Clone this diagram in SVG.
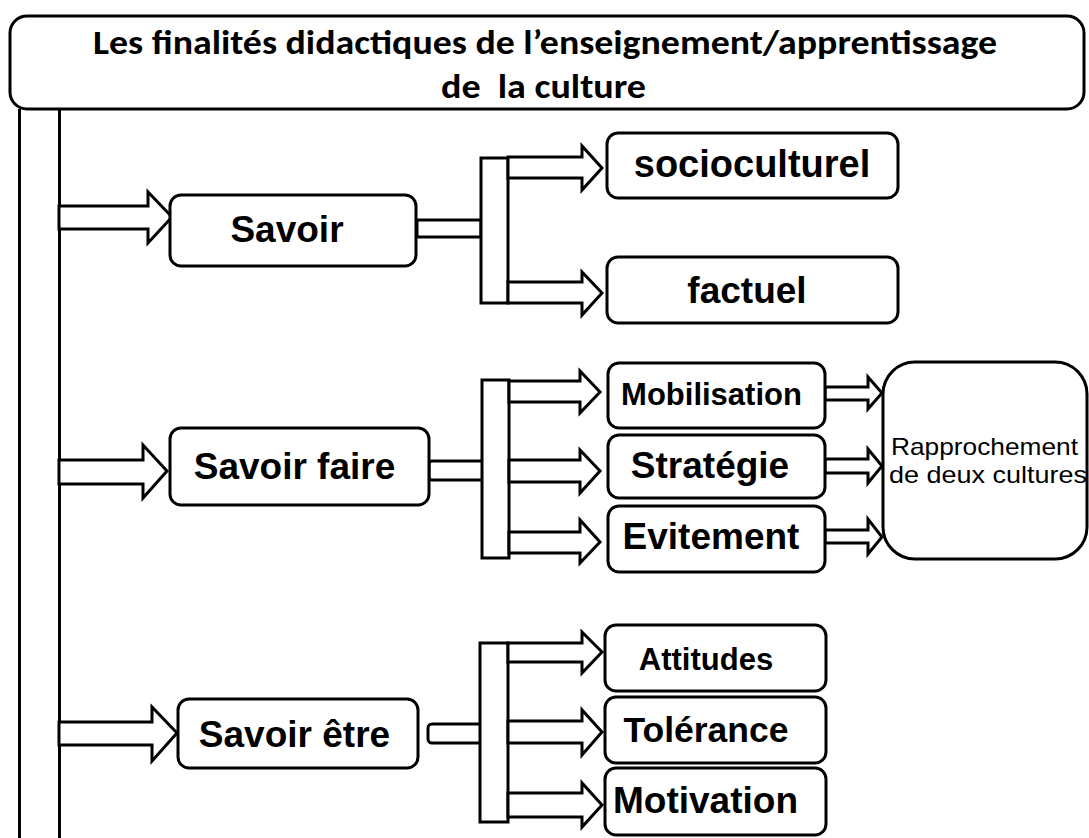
<svg xmlns="http://www.w3.org/2000/svg" width="1089" height="838" viewBox="0 0 1089 838">
<style>
.box{fill:#fff;stroke:#000;stroke-width:3}
.conn{fill:#fff;stroke:#000;stroke-width:3;stroke-linejoin:miter}
.line{fill:none;stroke:#000;stroke-width:3}
.t{font-family:"Liberation Sans",Arial,sans-serif;font-weight:bold;fill:#000;text-anchor:middle}
.title{font-family:Carlito,"Liberation Sans Narrow","Liberation Sans",sans-serif;font-weight:bold;fill:#000}
.r{font-family:"Liberation Sans",Arial,sans-serif;fill:#000}
</style>
<rect width="1089" height="838" fill="#fff"/>

<g id="connectors">
  <!-- left vertical bar -->
  <line class="line" x1="19.5" y1="109" x2="19.5" y2="838"/>
  <line class="line" x1="59.5" y1="109" x2="59.5" y2="838"/>
  <!-- bar to main nodes -->
  <polygon class="conn" points="59,206 148,206 148,192 172,217 148,243 148,229 59,229"/>
  <polygon class="conn" points="59,460 143,460 143,445 167,471 143,498 143,484 59,484"/>
  <polygon class="conn" points="59,722 152,722 152,707 177,733 152,761 152,745 59,745"/>
  <!-- node to bracket stubs -->
  <rect class="conn" x="417" y="220" width="64" height="17"/>
  <rect class="conn" x="429" y="461" width="58" height="19" rx="3"/>
  <rect class="conn" x="428" y="724" width="60" height="19" rx="4"/>
  <!-- brackets -->
  <rect class="conn" x="481" y="158" width="27" height="145"/>
  <rect class="conn" x="482" y="380" width="27" height="178"/>
  <rect class="conn" x="480" y="643" width="28" height="179"/>
  <!-- Savoir branches -->
  <polygon class="conn" points="508,157 582,157 582,146 602,168 582,190 582,178 508,178"/>
  <polygon class="conn" points="508,282 582,282 582,272 602,293 582,315 582,303 508,303"/>
  <!-- Savoir faire branches -->
  <polygon class="conn" points="509,381 580,381 580,371 600,392 580,413 580,402 509,402"/>
  <polygon class="conn" points="509,460 580,460 580,450 600,471 580,493 580,482 509,482"/>
  <polygon class="conn" points="509,532 580,532 580,520 600,542 580,563 580,553 509,553"/>
  <!-- Savoir être branches -->
  <polygon class="conn" points="508,643 582,643 582,632 602,652 582,673 582,662 508,662"/>
  <polygon class="conn" points="508,721 582,721 582,710 602,732 582,755 582,743 508,743"/>
  <polygon class="conn" points="508,793 582,793 582,783 602,805 582,827 582,817 508,817"/>
  <!-- to Rapprochement -->
  <polygon class="conn" points="825,387 868,387 868,377 882,393 868,409 868,400 825,400"/>
  <polygon class="conn" points="825,459 868,459 868,449 882,466 868,483 868,473 825,473"/>
  <polygon class="conn" points="825,530 868,530 868,519 882,537 868,554 868,543 825,543"/>
</g>

<g id="title">
  <rect class="box" x="10" y="16" width="1074" height="93" rx="17"/>
  <text class="title" x="93" y="54" font-size="35" textLength="904" lengthAdjust="spacingAndGlyphs">Les finalités didactiques de l’enseignement/apprentissage</text>
  <text class="title" x="441" y="98" font-size="35" textLength="205" lengthAdjust="spacingAndGlyphs" style="white-space:pre">de  la culture</text>
</g>

<g id="savoir">
  <rect class="box" x="170" y="195" width="246" height="71" rx="11"/>
  <text class="t" x="287" y="242" font-size="37">Savoir</text>
</g>
<g id="savoir-faire">
  <rect class="box" x="170" y="428" width="259" height="77" rx="11"/>
  <text class="t" x="294.5" y="479" font-size="37">Savoir faire</text>
</g>
<g id="savoir-etre">
  <rect class="box" x="178" y="699" width="240" height="69" rx="11"/>
  <text class="t" x="294.5" y="747" font-size="37">Savoir être</text>
</g>

<g id="socioculturel">
  <rect class="box" x="607" y="133" width="291" height="65" rx="11"/>
  <text class="t" x="752" y="177" font-size="38">socioculturel</text>
</g>
<g id="factuel">
  <rect class="box" x="607" y="257" width="291" height="66" rx="11"/>
  <text class="t" x="747" y="303" font-size="37">factuel</text>
</g>

<g id="mobilisation">
  <rect class="box" x="608" y="363" width="217" height="65" rx="11"/>
  <text class="t" x="711.5" y="405" font-size="31">Mobilisation</text>
</g>
<g id="strategie">
  <rect class="box" x="608" y="435" width="217" height="63" rx="11"/>
  <text class="t" x="710" y="478" font-size="37">Stratégie</text>
</g>
<g id="evitement">
  <rect class="box" x="608" y="506" width="217" height="66" rx="11"/>
  <text class="t" x="711" y="549" font-size="37">Evitement</text>
</g>

<g id="rapprochement">
  <rect class="box" x="883" y="362" width="204" height="197" rx="32"/>
  <text class="r" x="891" y="455" font-size="24" textLength="187" lengthAdjust="spacingAndGlyphs">Rapprochement</text>
  <text class="r" x="889" y="483" font-size="24" textLength="198" lengthAdjust="spacingAndGlyphs">de deux cultures</text>
</g>

<g id="attitudes">
  <rect class="box" x="605" y="625" width="221" height="66" rx="11"/>
  <text class="t" x="706" y="670" font-size="31">Attitudes</text>
</g>
<g id="tolerance">
  <rect class="box" x="605" y="697" width="221" height="66" rx="11"/>
  <text class="t" x="706" y="742" font-size="35.5">Tolérance</text>
</g>
<g id="motivation">
  <rect class="box" x="605" y="768" width="221" height="67" rx="11"/>
  <text class="t" x="705.5" y="813" font-size="37">Motivation</text>
</g>
</svg>
